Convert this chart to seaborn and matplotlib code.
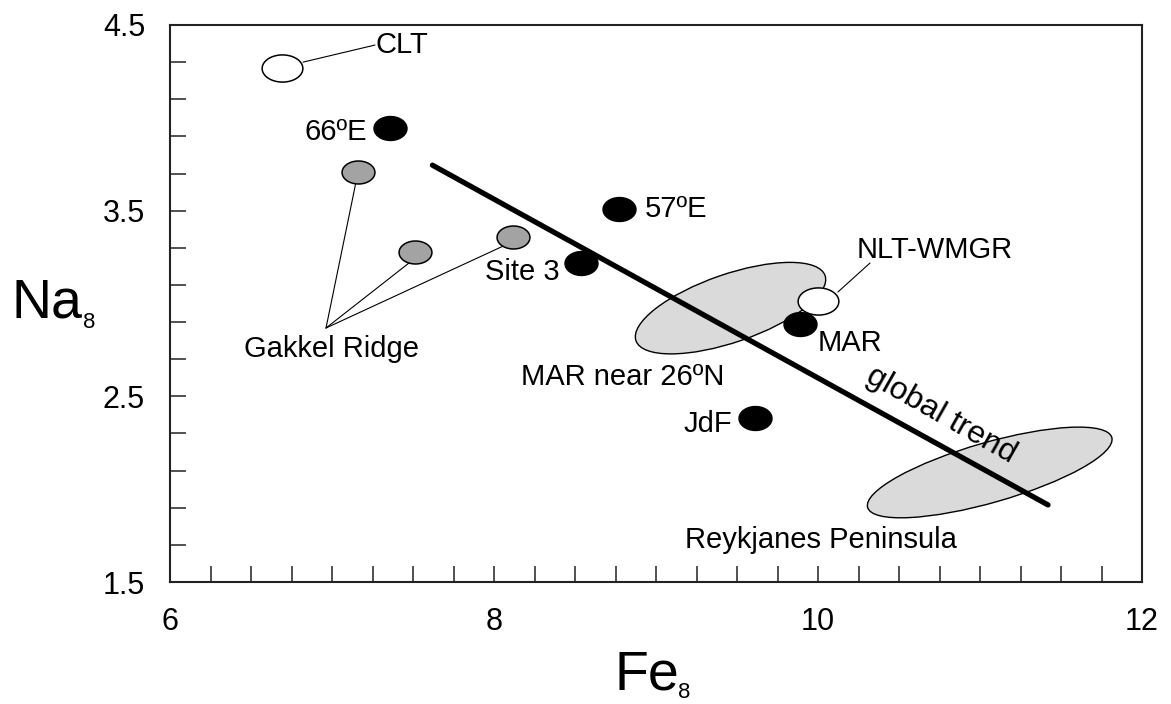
import numpy as np
import pandas as pd
import matplotlib
matplotlib.use("Agg")
import matplotlib.pyplot as plt
import seaborn as sns
from matplotlib.path import Path
from matplotlib.patches import Ellipse
from matplotlib.transforms import ScaledTranslation

# ---------------- data ----------------
sample_names = ["CLT", "66ºE", "Gakkel Ridge 1", "Gakkel Ridge 2", "Gakkel Ridge 3",
                "57ºE", "Site 3", "NLT-WMGR", "MAR", "JdF"]
fe8 = [6.69, 7.36, 7.16, 7.51, 8.12, 8.77, 8.54, 10.00, 9.89, 9.61]
na8 = [4.27, 3.945, 3.71, 3.28, 3.36, 3.51, 3.22, 3.015, 2.89, 2.385]
groups = ["open", "black", "gray", "gray", "gray", "black", "black", "open", "black", "black"]

# fields (gray ellipses): centre Fe8 / Na8
field_names = ["MAR near 26ºN", "Reykjanes Peninsula"]
field_fe = [9.46, 11.06]
field_na = [2.975, 2.09]

# global trend line end points
trend_fe = [7.62, 11.42]
trend_na = [3.745, 1.915]

# tick values / labels
x_ticks = list(np.arange(6.0, 12.001, 0.25))
x_labels_map = {6.0: "6", 8.0: "8", 10.0: "10", 12.0: "12"}
y_ticks = list(np.round(np.arange(1.5, 4.5001, 0.2), 2))
y_labels_map = {1.5: "1.5", 2.5: "2.5", 3.5: "3.5", 4.5: "4.5"}

df = pd.DataFrame({"name": sample_names, "Fe8": fe8, "Na8": na8, "group": groups})

# ---------------- style ----------------
sns.set_style("white")
plt.rcParams["font.family"] = ["Liberation Sans", "DejaVu Sans"]
plt.rcParams["text.color"] = "black"
plt.rcParams["xtick.color"] = "black"
plt.rcParams["ytick.color"] = "black"
plt.rcParams["axes.labelcolor"] = "black"

fig = plt.figure(figsize=(11.71, 7.04), dpi=100)
ax = fig.add_axes([170 / 1171, 1 - 582 / 704, (1142 - 170) / 1171, (582 - 25) / 704])
ax.set_xlim(6, 12)
ax.set_ylim(1.5, 4.5)


def ellipse_marker(ratio):
    t = np.linspace(0, 2 * np.pi, 80)
    verts = np.column_stack([ratio * np.cos(t), np.sin(t)])
    return Path(verts, closed=True)


# gray fields
field_sizes = [(2.0, 0.68, 19), (2.54, 0.60, 16)]
for cx, cy, (w, h, a) in zip(field_fe, field_na, field_sizes):
    e = Ellipse((0, 0), w, h, angle=a, facecolor="#dadada", edgecolor="black", lw=1.0,
                transform=fig.dpi_scale_trans + ScaledTranslation(cx, cy, ax.transData), zorder=1)
    ax.add_patch(e)

# trend line
sns.lineplot(x=trend_fe, y=trend_na, ax=ax, color="black", lw=3.8, zorder=3, sort=False)

# leader lines
leaders = [
    ([6.821, 7.265], [4.300, 4.392]),
    ([10.123, 10.321], [3.062, 3.218]),
    ([6.963, 7.148], [2.868, 3.654]),
    ([6.963, 7.475], [2.868, 3.218]),
    ([6.963, 8.056], [2.868, 3.309]),
]
for lx, ly in leaders:
    ax.plot(lx, ly, color="black", lw=0.8, zorder=2)

# points
styles = {
    "black": dict(facecolor="black", edgecolor="black", s=560, ratio=1.38),
    "gray": dict(facecolor="#a3a3a3", edgecolor="black", s=560, ratio=1.43),
    "open": dict(facecolor="white", edgecolor="black", s=860, ratio=1.5),
}
for g, st in styles.items():
    sub = df[df["group"] == g]
    sns.scatterplot(data=sub, x="Fe8", y="Na8", ax=ax, marker=ellipse_marker(st["ratio"]),
                    s=st["s"], color=st["facecolor"], edgecolor=st["edgecolor"],
                    linewidth=1.1, zorder=4, legend=False)

# annotations
fs = 21
ax.text(7.27, 4.349, "CLT", fontsize=fs, ha="left", va="baseline")
ax.text(7.216, 3.880, "66ºE", fontsize=fs, ha="right", va="baseline")
ax.text(8.932, 3.466, "57ºE", fontsize=fs, ha="left", va="baseline")
ax.text(8.173, 3.126, "Site 3", fontsize=fs, ha="center", va="baseline")
ax.text(7.0, 2.712, "Gakkel Ridge", fontsize=fs, ha="center", va="baseline")
ax.text(10.241, 3.245, "NLT-WMGR", fontsize=fs, ha="left", va="baseline")
ax.text(10.0, 2.744, "MAR", fontsize=fs, ha="left", va="baseline")
ax.text(8.167, 2.561, field_names[0], fontsize=fs, ha="left", va="baseline")
ax.text(9.469, 2.308, "JdF", fontsize=fs, ha="right", va="baseline")
ax.text(9.179, 1.683, field_names[1], fontsize=fs, ha="left", va="baseline")
ax.text(10.76, 2.40, "global trend", fontsize=23, ha="center", va="center",
        rotation=-29.5, rotation_mode="anchor")

# ticks
ax.set_xticks(x_ticks)
ax.set_xticklabels([x_labels_map.get(round(v, 2), "") for v in x_ticks])
ax.set_yticks(y_ticks)
ax.set_yticklabels([y_labels_map.get(round(v, 2), "") for v in y_ticks])
ax.tick_params(direction="in", length=11.5, width=1.1, labelsize=22, pad=18,
               top=False, right=False, bottom=True, left=True, color="#222222",
               labelcolor="black")
ax.set_xlabel("")
ax.set_ylabel("")
for sp in ax.spines.values():
    sp.set_color("#222222")
    sp.set_linewidth(1.5)
    sp.set_visible(True)

# axis titles with subscripts
fig.text(12 / 1171, 1 - 318 / 704, "Na", fontsize=40, ha="left", va="baseline")
fig.text(83 / 1171, 1 - 328 / 704, "8", fontsize=16, ha="left", va="baseline")
fig.text(615 / 1171, 1 - 689 / 704, "Fe", fontsize=40, ha="left", va="baseline")
fig.text(678 / 1171, 1 - 698 / 704, "8", fontsize=16, ha="left", va="baseline")

fig.savefig("out.png", dpi=100)
